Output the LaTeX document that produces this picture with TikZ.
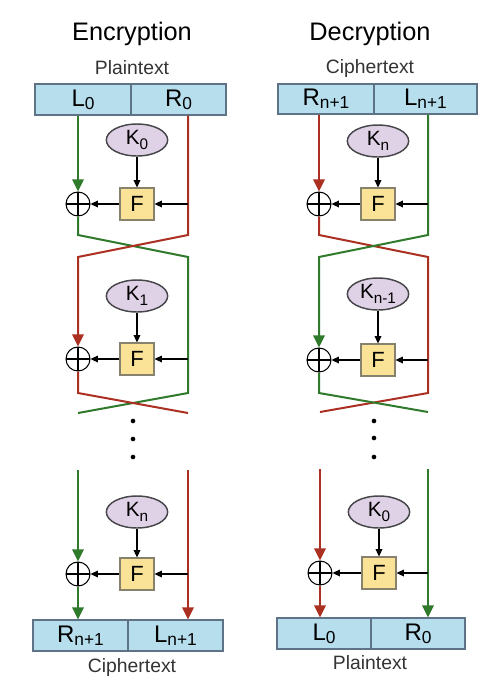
\documentclass[tikz,border=0pt]{standalone}
\usepackage{fontspec}
\setmainfont{Liberation Sans}
\usetikzlibrary{arrows.meta,shapes.geometric}
\definecolor{gr}{RGB}{48,122,44}
\definecolor{rd}{RGB}{172,48,34}
\definecolor{boxfill}{RGB}{182,222,236}
\definecolor{boxedge}{RGB}{95,115,135}
\definecolor{keyfill}{RGB}{224,210,230}
\definecolor{keyedge}{RGB}{70,70,75}
\definecolor{ffill}{RGB}{250,226,150}
\definecolor{fedge}{RGB}{135,130,110}
\newcommand{\sbx}[1]{\raisebox{-2.5pt}{\fontsize{13}{13}\selectfont #1}}
\newcommand{\sbk}[1]{\raisebox{-4pt}{\fontsize{11.5}{11.5}\selectfont #1}}
\begin{document}
\begin{tikzpicture}[x=0.75pt,y=-0.75pt,
  blk/.style={rectangle,draw=boxedge,fill=boxfill,line width=0.8pt,minimum height=23.25pt,inner sep=0pt,font=\fontsize{18}{18}\selectfont},
  keyn/.style={ellipse,draw=keyedge,fill=keyfill,line width=1.1pt,minimum width=46pt,minimum height=24pt,inner sep=0pt,font=\fontsize{15.5}{15.5}\selectfont},
  fnbox/.style={rectangle,draw=fedge,fill=ffill,line width=0.8pt,minimum width=25.5pt,minimum height=24pt,inner sep=0pt,font=\fontsize{16.5}{16.5}\selectfont},
  xorn/.style={circle,draw,line width=0.8pt,minimum size=18pt,inner sep=0pt,
    path picture={\draw[line width=0.8pt] (path picture bounding box.north) -- (path picture bounding box.south) (path picture bounding box.west) -- (path picture bounding box.east);}},
  title/.style={font=\fontsize{19}{20}\selectfont},
  lbl/.style={font=\fontsize{14.5}{15}\selectfont, text=black!80},
  dotn/.style={circle,fill=black,minimum size=3.5pt,inner sep=0pt},
  arr/.style={line width=0.9pt,-{Triangle[length=5.5pt,width=5pt]}},
  gline/.style={draw=gr,line width=1.5pt},
  rline/.style={draw=rd,line width=1.5pt},
  garr/.style={gline,-{Triangle[length=9pt,width=8.5pt]}},
  rarr/.style={rline,-{Triangle[length=9pt,width=8.5pt]}}
]
\useasboundingbox (0,0) rectangle (482,690);

% ================= Encryption =================
\node[title] (etitle) at (132,34) {Encryption};
\node[lbl] (eplain) at (132,68) {Plaintext};
\node[blk,minimum width=72pt] (eL0) at (83,99.5) {L\sbx{0}};
\node[blk,minimum width=71.25pt] (eR0) at (178.5,99.5) {R\sbx{0}};

\node[keyn] (ek1) at (137,140) {K\sbk{0}};
\node[fnbox] (ef1) at (137,204) {F};
\node[xorn] (ex1) at (78,204) {};
\coordinate (ea1) at (188,204);

\node[keyn] (ek2) at (137,296) {K\sbk{1}};
\node[fnbox] (ef2) at (137,359) {F};
\node[xorn] (ex2) at (78,359) {};
\coordinate (ea2) at (188,359);

\node[keyn] (ek3) at (137,512) {K\sbk{n}};
\node[fnbox] (ef3) at (137,574) {F};
\node[xorn] (ex3) at (78,574) {};
\coordinate (ea3) at (188,574);

\coordinate (ec1a) at (78,235);
\coordinate (ec1b) at (188,235);
\coordinate (ec1c) at (78,257);
\coordinate (ec1d) at (188,257);
\coordinate (ec2a) at (78,393);
\coordinate (ec2b) at (188,393);
\coordinate (ec2c) at (78,413);
\coordinate (ec2d) at (188,413);
\coordinate (es3l) at (78,470);
\coordinate (es3r) at (188,470);

\node[dotn] (ed1) at (133,421) {};
\node[dotn] (ed2) at (133,439) {};
\node[dotn] (ed3) at (133,457) {};

\node[blk,minimum width=71.25pt] (eRn) at (80.5,635.5) {R\sbx{n+1}};
\node[blk,minimum width=71.25pt] (eLn) at (175.5,635.5) {L\sbx{n+1}};
\node[lbl] (ecipher) at (132,667) {Ciphertext};

% green
\draw[garr] (ex1.north |- eL0.south) -- (ex1.north);
\draw[gline] (ex1.south) -- (ec1a) -- (ec1d) -- (ec2b) -- (ec2c);
\draw[garr] (es3l) -- (ex3.north);
\draw[garr] (ex3.south) -- (ex3.south |- eRn.north);
% red
\draw[rarr] (ea1 |- eR0.south) -- (ec1b) -- (ec1c) -- (ex2.north);
\draw[rline] (ex2.south) -- (ec2a) -- (ec2d);
\draw[rarr] (es3r) -- (es3r |- eLn.north);
% black
\draw[arr] (ek1) -- (ef1);
\draw[arr] (ea1) -- (ef1);
\draw[arr] (ef1) -- (ex1);
\draw[arr] (ek2) -- (ef2);
\draw[arr] (ea2) -- (ef2);
\draw[arr] (ef2) -- (ex2);
\draw[arr] (ek3) -- (ef3);
\draw[arr] (ea3) -- (ef3);
\draw[arr] (ef3) -- (ex3);

% ================= Decryption =================
\node[title] (dtitle) at (370,34) {Decryption};
\node[lbl] (dcipher) at (370,68) {Ciphertext};
\node[blk,minimum width=72pt,minimum height=22.5pt] (dRn) at (326,99) {R\sbx{n+1}};
\node[blk,minimum width=77.25pt,minimum height=22.5pt] (dLn) at (425.5,99) {L\sbx{n+1}};

\node[keyn] (dk1) at (378,141) {K\sbk{n}};
\node[fnbox] (df1) at (378,204) {F};
\node[xorn] (dx1) at (319,204) {};
\coordinate (da1) at (428,204);

\node[keyn] (dk2) at (378,294) {K\sbk{n-1}};
\node[fnbox] (df2) at (378,360) {F};
\node[xorn] (dx2) at (319,360) {};
\coordinate (da2) at (428,360);

\node[keyn] (dk3) at (379,512) {K\sbk{0}};
\node[fnbox] (df3) at (379,573) {F};
\node[xorn] (dx3) at (320,573) {};
\coordinate (da3) at (428,573);

\coordinate (dc1a) at (319,235);
\coordinate (dc1b) at (428,235);
\coordinate (dc1c) at (319,257);
\coordinate (dc1d) at (428,257);
\coordinate (dc2a) at (319,393);
\coordinate (dc2b) at (428,393);
\coordinate (dc2c) at (320,412);
\coordinate (dc2d) at (428,412);
\coordinate (ds3l) at (320,469);
\coordinate (ds3r) at (428,469);

\node[dotn] (dd1) at (374,421) {};
\node[dotn] (dd2) at (374,438) {};
\node[dotn] (dd3) at (374,457) {};

\node[blk,minimum width=70.5pt] (dL0) at (324,633.5) {L\sbx{0}};
\node[blk,minimum width=70.5pt] (dR0) at (418,633.5) {R\sbx{0}};
\node[lbl] (dplain) at (370,663) {Plaintext};

% red
\draw[rarr] (dx1.north |- dRn.south) -- (dx1.north);
\draw[rline] (dx1.south) -- (dc1a) -- (dc1d) -- (dc2b) -- (dc2c);
\draw[rarr] (ds3l) -- (dx3.north);
\draw[rarr] (dx3.south) -- (dx3.south |- dL0.north);
% green
\draw[garr] (da1 |- dLn.south) -- (dc1b) -- (dc1c) -- (dx2.north);
\draw[gline] (dx2.south) -- (dc2a) -- (dc2d);
\draw[garr] (ds3r) -- (ds3r |- dR0.north);
% black
\draw[arr] (dk1) -- (df1);
\draw[arr] (da1) -- (df1);
\draw[arr] (df1) -- (dx1);
\draw[arr] (dk2) -- (df2);
\draw[arr] (da2) -- (df2);
\draw[arr] (df2) -- (dx2);
\draw[arr] (dk3) -- (df3);
\draw[arr] (da3) -- (df3);
\draw[arr] (df3) -- (dx3);
\end{tikzpicture}
\end{document}
